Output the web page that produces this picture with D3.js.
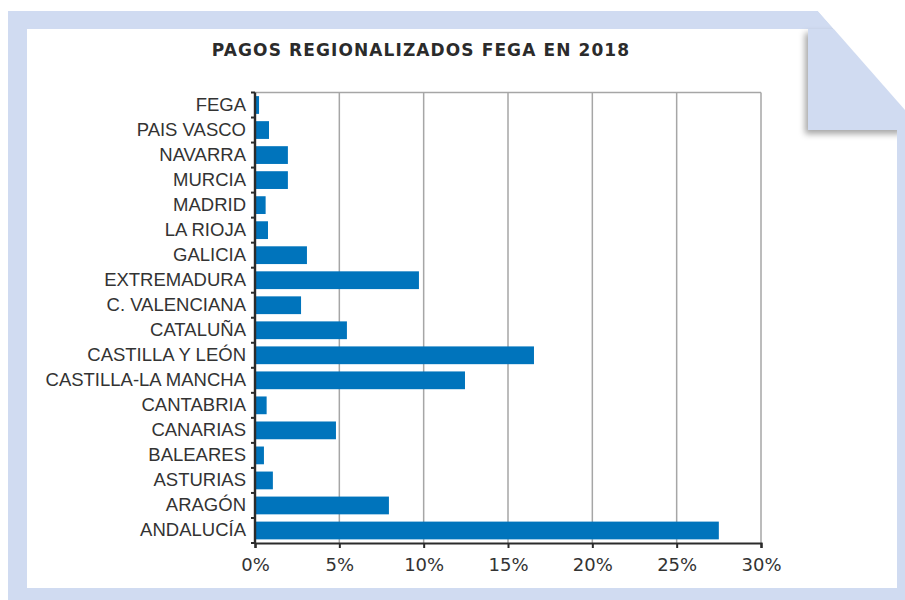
<!DOCTYPE html>
<meta charset="UTF-8">
<style>
body { margin: 0; background: #fff; }
.lbl { font: 18.5px "Liberation Sans", Arial, sans-serif; fill: #333; }
.tick-x { font: 18px "DejaVu Sans", sans-serif; fill: #333; }
.title { font: bold 17px "DejaVu Sans", sans-serif; fill: #2b2b2b; letter-spacing: 1.1px; }
.grid { stroke: #a6a6a6; stroke-width: 1.5px; }
.bar { fill: #0074bc; }
</style>
<body>
<script src="https://cdnjs.cloudflare.com/ajax/libs/d3/7.8.5/d3.min.js"></script>
<script>

var regions = ["FEGA", "PAIS VASCO", "NAVARRA", "MURCIA", "MADRID", "LA RIOJA", "GALICIA",
  "EXTREMADURA", "C. VALENCIANA", "CATALUÑA", "CASTILLA Y LEÓN", "CASTILLA-LA MANCHA",
  "CANTABRIA", "CANARIAS", "BALEARES", "ASTURIAS", "ARAGÓN", "ANDALUCÍA"];
var pct = [0.24, 0.83, 1.95, 1.95, 0.63, 0.77, 3.08,
  9.72, 2.73, 5.45, 16.54, 12.45,
  0.69, 4.8, 0.53, 1.06, 7.94, 27.5];
var xTicks = [0, 5, 10, 15, 20, 25, 30];
var title = "PAGOS REGIONALIZADOS FEGA EN 2018";

var W = 905, H = 600;
var svg = d3.select("body").append("svg")
    .attr("width", W).attr("height", H);

// drop shadow for the folded corner
var defs = svg.append("defs");
var f = defs.append("filter").attr("id", "sh")
    .attr("x", "-20%").attr("y", "-20%").attr("width", "140%").attr("height", "140%");
f.append("feDropShadow").attr("dx", -3).attr("dy", 4)
    .attr("stdDeviation", 3).attr("flood-color", "#000").attr("flood-opacity", 0.35);

// blue frame with the cut corner
svg.append("path")
    .attr("d", "M8,11 L818,11 L905,110 L905,600 L8,600 Z")
    .attr("fill", "#d0dbf1");

// white sheet
svg.append("rect")
    .attr("x", 27).attr("y", 29).attr("width", 870).attr("height", 559)
    .attr("fill", "#fff");

// folded flap
svg.append("rect")
    .attr("x", 808).attr("y", 29).attr("width", 97).attr("height", 101)
    .attr("fill", "#d0dbf1").attr("filter", "url(#sh)");
svg.append("path")
    .attr("d", "M818,11 L905,110 L905,0 Z")
    .attr("fill", "#fff");
svg.append("rect")
    .attr("x", 897).attr("y", 130).attr("width", 8).attr("height", 470)
    .attr("fill", "#d0dbf1");

svg.append("text").attr("class", "title")
    .attr("x", 421).attr("y", 56)
    .attr("text-anchor", "middle")
    .text(title);

var pLeft = 255, pRight = 761, pTop = 92.5, pBottom = 543;

var x = d3.scaleLinear().domain([0, 30]).range([pLeft, pRight]);
var y = d3.scaleBand().domain(regions).range([pTop, pBottom]).paddingInner(0.29).paddingOuter(0.145);

// grid
svg.append("g").selectAll("line").data(xTicks.slice(1)).join("line")
    .attr("class", "grid")
    .attr("x1", d => x(d)).attr("x2", d => x(d))
    .attr("y1", pTop).attr("y2", pBottom);
svg.append("line").attr("class", "grid")
    .attr("x1", pLeft).attr("x2", pRight).attr("y1", pTop).attr("y2", pTop);

// bars
svg.append("g").selectAll("rect").data(regions).join("rect")
    .attr("class", "bar")
    .attr("x", x(0))
    .attr("y", d => y(d))
    .attr("width", (d, i) => x(pct[i]) - x(0))
    .attr("height", y.bandwidth());

// x axis
var xAxis = svg.append("g")
    .attr("transform", "translate(0," + pBottom + ")")
    .call(d3.axisBottom(x).tickValues(xTicks).tickSize(5).tickPadding(10)
      .tickFormat(d => d + "%"));
xAxis.select(".domain").attr("stroke", "#2b2b2b").attr("stroke-width", 2.2);
xAxis.selectAll(".tick line").attr("stroke", "#2b2b2b").attr("stroke-width", 2);
xAxis.selectAll(".tick text").attr("class", "tick-x").attr("fill", null);

// y axis: ticks at band boundaries
var step = (pBottom - pTop) / regions.length;
var yAxis = svg.append("g");
yAxis.append("line")
    .attr("x1", pLeft).attr("x2", pLeft).attr("y1", pTop).attr("y2", pBottom + 1)
    .attr("stroke", "#2b2b2b").attr("stroke-width", 2.4);
yAxis.selectAll("line.t").data(d3.range(regions.length + 1)).join("line")
    .attr("class", "t")
    .attr("x1", pLeft - 4).attr("x2", pLeft)
    .attr("y1", d => pTop + d * step).attr("y2", d => pTop + d * step)
    .attr("stroke", "#2b2b2b").attr("stroke-width", 2);
yAxis.selectAll("text").data(regions).join("text")
    .attr("class", "lbl")
    .attr("x", pLeft - 9)
    .attr("y", d => y(d) + y.bandwidth() / 2)
    .attr("dy", "0.3em")
    .attr("text-anchor", "end")
    .text(d => d);

</script>
</body>
